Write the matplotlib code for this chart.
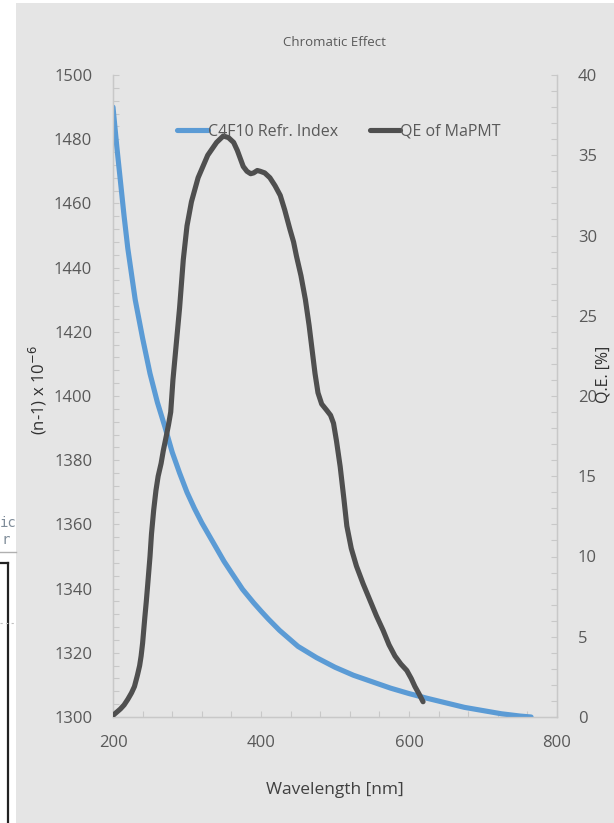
import numpy as np
import matplotlib
matplotlib.use("Agg")
import matplotlib.pyplot as plt
from matplotlib.ticker import MultipleLocator
from matplotlib.lines import Line2D
from matplotlib.patches import Rectangle

# C4F10 refractive index, (n-1) x 1e-6
wl_n = [200, 205, 210, 215, 220, 225, 230, 240, 250, 260, 270, 280, 290, 300,
        310, 320, 330, 340, 350, 360, 375, 390, 400, 410, 425, 450, 475, 500,
        525, 550, 575, 600, 625, 650, 675, 700, 725, 750, 765]
n_val = [1490, 1478, 1467, 1456, 1446, 1438, 1430, 1418, 1407, 1398, 1390.5, 1382.5, 1376, 1370,
         1365, 1360.5, 1356.5, 1352.5, 1348.5, 1345, 1339.8, 1335.6, 1333, 1330.5, 1327, 1322, 1318.5, 1315.5,
         1313, 1311, 1309, 1307.3, 1305.8, 1304.4, 1303, 1302, 1301, 1300.3, 1300]

# QE of MaPMT in %
wl_qe = [200, 205, 210, 215, 220, 225, 229, 233, 236, 238, 240, 243, 245, 247, 250, 252,
         255, 258, 261, 265, 268, 272, 275, 278, 281, 285, 290, 295, 300, 306, 315, 328,
         340, 349, 356, 363, 368, 372, 376, 381, 386, 390, 395, 399, 405, 412, 419, 426,
         432, 439, 444, 448, 454, 460, 465, 469, 473, 477, 482, 489, 494, 498, 502, 507,
         512, 516, 522, 529, 538, 547, 556, 565, 573, 581, 589, 597, 603, 608, 614, 619]
qe_val = [0.1, 0.3, 0.5, 0.75, 1.1, 1.5, 1.9, 2.6, 3.2, 3.8, 4.6, 6.2, 7.2, 8.3, 10.0, 11.4,
          12.9, 14.1, 15.0, 15.8, 16.6, 17.5, 18.2, 19.0, 21.0, 23.0, 25.5, 28.5, 30.6, 32.1, 33.6, 35.0,
          35.8, 36.2, 36.1, 35.8, 35.3, 34.8, 34.3, 34.0, 33.85, 33.9, 34.05, 34.0, 33.9, 33.6, 33.1, 32.5,
          31.6, 30.4, 29.6, 28.7, 27.5, 26.0, 24.4, 22.9, 21.4, 20.2, 19.5, 19.1, 18.8, 18.3, 17.2, 15.6,
          13.6, 11.9, 10.5, 9.4, 8.3, 7.3, 6.3, 5.4, 4.5, 3.8, 3.3, 2.9, 2.4, 1.9, 1.4, 0.95]

bg = "#e5e5e5"
txt = "#595959"
axc = "#c8c8c8"
plt.rcParams['font.family'] = ['Open Sans', 'DejaVu Sans']

W, H = 614, 823
fig = plt.figure(figsize=(W / 100, H / 100), dpi=100, facecolor=bg)

def fx(px):
    return px / W

def fy(py):
    return 1 - py / H

# white strip from the window behind
fig.patches.append(Rectangle((0, 0), fx(16), 1, transform=fig.transFigure,
                             facecolor="white", edgecolor="none", zorder=0))
fig.patches.append(Rectangle((0, fy(3)), 1, fx(3), transform=fig.transFigure,
                             facecolor="white", edgecolor="none", zorder=0))
fig.text(fx(0), fy(523), "ic", fontsize=10, color="#7f8c99", va="center",
         family="DejaVu Sans Mono")
fig.text(fx(1), fy(540), "r", fontsize=10, color="#7f8c99", va="center",
         family="DejaVu Sans Mono")
fig.add_artist(Line2D([0, fx(16)], [fy(552), fy(552)], color="#b0b0b0", lw=1))
fig.add_artist(Line2D([0, fx(8)], [fy(563), fy(563)], color="#222222", lw=1.6))
fig.add_artist(Line2D([fx(8), fx(8)], [fy(563), 0], color="#222222", lw=1.6))
fig.add_artist(Line2D([0, fx(16)], [fy(623), fy(623)], color="#c0c0c0", lw=0.8, ls=(0, (2, 3))))

ax = fig.add_axes([fx(113), fy(717), fx(557) - fx(113), fy(75) - fy(717)])
ax.set_facecolor(bg)
ax2 = ax.twinx()

l1, = ax.plot(wl_n, n_val, color="#5b9bd5", lw=3.7, solid_capstyle="round",
              solid_joinstyle="round", label="C4F10 Refr. Index", zorder=3)
l2, = ax2.plot(wl_qe, qe_val, color="#4f4f4f", lw=3.7, solid_capstyle="round",
               solid_joinstyle="round", label="QE of MaPMT", zorder=3)

ax.set_xlim(200, 800)
ax.set_ylim(1300, 1500)
ax2.set_ylim(0, 40)

ax.xaxis.set_major_locator(MultipleLocator(200))
ax.xaxis.set_minor_locator(MultipleLocator(40))
ax.yaxis.set_major_locator(MultipleLocator(20))
ax.yaxis.set_minor_locator(MultipleLocator(4))
ax2.yaxis.set_major_locator(MultipleLocator(5))
ax2.yaxis.set_minor_locator(MultipleLocator(1))

for a in (ax, ax2):
    for s in a.spines.values():
        s.set_color(axc)
        s.set_linewidth(0.9)
    a.spines['top'].set_visible(False)
    a.tick_params(which="both", direction="in", color=axc, length=4.5, width=0.8,
                  labelcolor=txt, labelsize=12)

ax.tick_params(axis="y", pad=15)
ax.tick_params(axis="x", pad=13)
ax2.tick_params(axis="y", pad=15)

ax.set_xlabel("Wavelength [nm]", fontsize=12.5, color="#404040", va="center")
ax.xaxis.set_label_coords(0.5, -(790 - 717) / 642)
ax.set_ylabel("(n-1) x 10$^{-6}$", fontsize=12, color="#303030", va="center", ha="center")
ax.yaxis.set_label_coords((38 - 113) / 444, (717 - 390) / 642)
ax2.set_ylabel("Q.E. [%]", fontsize=11.5, color="#303030", rotation=90,
               va="center", ha="center")
ax2.yaxis.set_label_coords((604 - 113) / 444, (717 - 374) / 642)

fig.text(fx(334), fy(43), "Chromatic Effect", fontsize=9.5, color=txt,
         ha="center", va="center")

leg = fig.legend(handles=[l1, l2], loc="center", bbox_to_anchor=(fx(339), fy(132)),
                 ncol=2, frameon=False, fontsize=11.5, handlelength=1.9,
                 handletextpad=0.0, columnspacing=2.0, borderpad=0)
for t in leg.get_texts():
    t.set_color(txt)

fig.savefig("out.png", dpi=100, facecolor=bg)
